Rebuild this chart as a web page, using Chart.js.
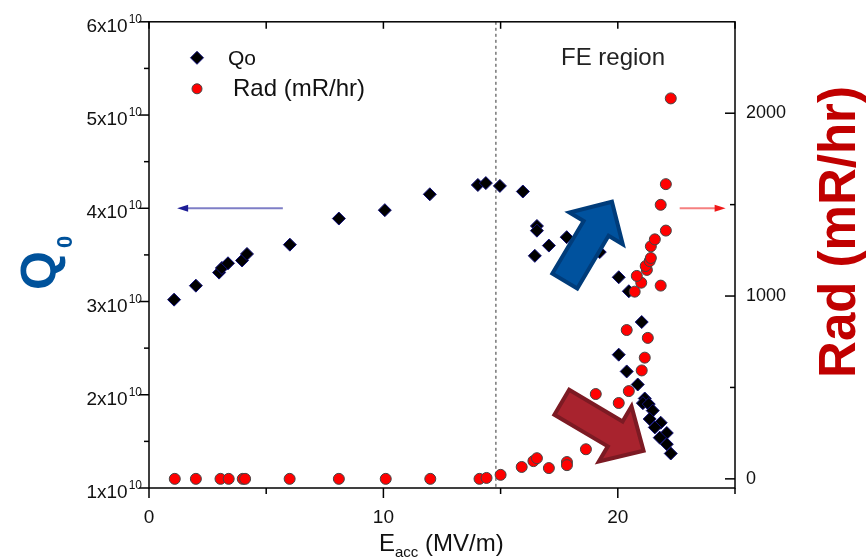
<!DOCTYPE html>
<html>
<head>
<meta charset="utf-8">
<title>Q0 and radiation vs Eacc</title>
<script src="https://cdn.jsdelivr.net/npm/chart.js@4.4.1/dist/chart.umd.min.js"></script>
<style>
  body { margin: 0; background: #fff; }
</style>
</head>
<body>
<canvas id="qChart" width="868" height="560"></canvas>
<script>
// Q0 points (diamonds, left axis)
var eQ = [1.07, 2.00, 2.99, 3.11, 3.37, 3.97, 4.18, 6.01, 8.10, 10.06, 11.98,
          14.03, 14.37, 14.97, 15.95, 16.55, 16.55, 16.46, 17.06, 17.82,
          19.23, 20.04, 20.47, 21.02, 20.04, 20.38, 20.85, 21.15, 21.07,
          21.32, 21.49, 21.36, 21.83, 21.58, 22.09, 21.79, 22.09, 22.26];
var q0 = [3.02e10, 3.17e10, 3.31e10, 3.36e10, 3.41e10, 3.44e10, 3.51e10, 3.61e10, 3.89e10, 3.98e10, 4.15e10,
          4.25e10, 4.27e10, 4.24e10, 4.18e10, 3.81e10, 3.76e10, 3.49e10, 3.60e10, 3.69e10,
          3.53e10, 3.26e10, 3.11e10, 2.78e10, 2.43e10, 2.25e10, 2.11e10, 1.96e10, 1.91e10,
          1.90e10, 1.83e10, 1.74e10, 1.70e10, 1.65e10, 1.59e10, 1.54e10, 1.47e10, 1.37e10];

// radiation points (circles, right axis)
var eRad = [1.1, 2.0, 3.05, 3.4, 4.0, 4.1, 6.0, 8.1, 10.1, 12.0, 14.1, 14.4,
            15.0, 15.9, 16.4, 16.55, 17.06, 17.83, 17.83, 18.64,
            19.06, 20.04, 20.47, 21.02, 21.15, 21.28, 20.38,
            20.72, 21.83, 21.0, 20.81, 21.24, 21.19, 21.36, 21.41, 21.41,
            21.58, 22.05, 21.83, 22.05, 22.26];
var rad = [0, 0, 0, 0, 0, 0, 0, 0, 0, 0, 0, 5,
           22, 65, 97, 113, 59, 92, 75, 162,
           464, 415, 480, 593, 663, 771, 814,
           1024, 1057, 1073, 1110, 1143, 1164, 1191, 1208, 1272,
           1310, 1358, 1499, 1612, 2081];

// ticks
var xTicks = [0, 10, 20];
var xMinor = [5, 15, 25];
var qTicks = [1e10, 2e10, 3e10, 4e10, 5e10, 6e10];
var qMinor = [1.5e10, 2.5e10, 3.5e10, 4.5e10, 5.5e10];
var radTicks = [0, 1000, 2000];
var radMinor = [500, 1500];

var feStart = 14.8;   // dashed line, start of FE region

var FONT = "'Liberation Sans', Arial, sans-serif";

function line(ctx, x0, y0, x1, y1) {
  ctx.beginPath();
  ctx.moveTo(x0, y0);
  ctx.lineTo(x1, y1);
  ctx.stroke();
}

// fat block arrow from (x0,y0) to tip (x1,y1)
function blockArrow(ctx, x0, y0, x1, y1, shaftW, headW, headL, fill, stroke) {
  var dx = x1 - x0, dy = y1 - y0, len = Math.hypot(dx, dy);
  var ux = dx / len, uy = dy / len, nx = -uy, ny = ux;
  var bx = x1 - ux * headL, by = y1 - uy * headL;
  var pts = [
    [x0 + nx * shaftW / 2, y0 + ny * shaftW / 2],
    [bx + nx * shaftW / 2, by + ny * shaftW / 2],
    [bx + nx * headW / 2, by + ny * headW / 2],
    [x1, y1],
    [bx - nx * headW / 2, by - ny * headW / 2],
    [bx - nx * shaftW / 2, by - ny * shaftW / 2],
    [x0 - nx * shaftW / 2, y0 - ny * shaftW / 2]
  ];
  ctx.beginPath();
  ctx.moveTo(pts[0][0], pts[0][1]);
  for (var i = 1; i < pts.length; i++) ctx.lineTo(pts[i][0], pts[i][1]);
  ctx.closePath();
  ctx.fillStyle = fill;
  ctx.fill();
  ctx.lineWidth = 4;
  ctx.lineJoin = 'miter';
  ctx.strokeStyle = stroke;
  ctx.stroke();
}

// thin arrow, horizontal
function thinArrow(ctx, x0, x1, y, lineCol, headCol) {
  var dir = x1 > x0 ? 1 : -1;
  ctx.strokeStyle = lineCol;
  ctx.lineWidth = 2;
  line(ctx, x0, y, x1 - dir * 8, y);
  ctx.fillStyle = headCol;
  ctx.beginPath();
  ctx.moveTo(x1, y);
  ctx.lineTo(x1 - dir * 11, y - 3.5);
  ctx.lineTo(x1 - dir * 11, y + 3.5);
  ctx.closePath();
  ctx.fill();
}

function diamond(ctx, x, y, r) {
  ctx.beginPath();
  ctx.moveTo(x, y - r);
  ctx.lineTo(x + r, y);
  ctx.lineTo(x, y + r);
  ctx.lineTo(x - r, y);
  ctx.closePath();
  ctx.fillStyle = '#000';
  ctx.fill();
  ctx.strokeStyle = '#10107a';
  ctx.lineWidth = 1;
  ctx.stroke();
}

var decor = {
  id: 'decor',
  beforeDatasetsDraw: function (chart) {
    var ctx = chart.ctx, a = chart.chartArea;
    var xs = chart.scales.x, ys = chart.scales.y, rs = chart.scales.y2;
    ctx.save();
    // FE onset
    var fx = xs.getPixelForValue(feStart);
    ctx.strokeStyle = '#333';
    ctx.lineWidth = 1;
    ctx.setLineDash([3, 3]);
    line(ctx, fx, a.top, fx, a.bottom);
    ctx.setLineDash([]);
    // frame
    ctx.strokeStyle = '#000';
    ctx.lineWidth = 1.5;
    ctx.strokeRect(a.left, a.top, a.right - a.left, a.bottom - a.top);
    // x ticks: out at bottom, in at top
    xTicks.forEach(function (v) {
      var p = xs.getPixelForValue(v);
      line(ctx, p, a.bottom, p, a.bottom + 10);
      line(ctx, p, a.top, p, a.top + 7);
    });
    xMinor.forEach(function (v) {
      var p = xs.getPixelForValue(v);
      line(ctx, p, a.bottom, p, a.bottom + 6);
      line(ctx, p, a.top, p, a.top + 7);
    });
    // left ticks, outward
    qTicks.forEach(function (v) {
      var p = ys.getPixelForValue(v);
      line(ctx, a.left - 10, p, a.left, p);
    });
    qMinor.forEach(function (v) {
      var p = ys.getPixelForValue(v);
      line(ctx, a.left - 5, p, a.left, p);
    });
    // right ticks, inward
    radTicks.forEach(function (v) {
      var p = rs.getPixelForValue(v);
      line(ctx, a.right - 10, p, a.right, p);
    });
    radMinor.forEach(function (v) {
      var p = rs.getPixelForValue(v);
      line(ctx, a.right - 5, p, a.right, p);
    });
    ctx.restore();
  },
  afterDatasetsDraw: function (chart) {
    var ctx = chart.ctx, a = chart.chartArea;
    var xs = chart.scales.x, ys = chart.scales.y;
    ctx.save();
    // big arrows
    blockArrow(ctx, xs.getPixelForValue(17.74), ys.getPixelForValue(3.22e10),
               xs.getPixelForValue(19.75), ys.getPixelForValue(4.07e10),
               29, 62, 31, '#00529e', '#003c7a');
    blockArrow(ctx, xs.getPixelForValue(17.61), ys.getPixelForValue(1.92e10),
               xs.getPixelForValue(21.1), ys.getPixelForValue(1.40e10),
               29, 64, 33, '#a8232e', '#7c1a23');
    // small pointers to the axes
    var ay = ys.getPixelForValue(4e10);
    thinArrow(ctx, xs.getPixelForValue(5.71), xs.getPixelForValue(1.2), ay,
              'rgba(40,40,160,0.6)', '#1c1c96');
    thinArrow(ctx, xs.getPixelForValue(22.64), xs.getPixelForValue(24.6), ay,
              'rgba(240,60,60,0.65)', '#f01818');
    // FE region label
    ctx.fillStyle = '#222';
    ctx.font = '24px ' + FONT;
    ctx.textAlign = 'center';
    ctx.textBaseline = 'middle';
    ctx.fillText('FE region', 613, 58);
    // legend
    ctx.textAlign = 'left';
    diamond(ctx, a.left + 48, a.top + 36, 6.5);
    ctx.fillStyle = '#111';
    ctx.font = '21px ' + FONT;
    ctx.fillText('Qo', a.left + 79, a.top + 37);
    ctx.beginPath();
    ctx.arc(a.left + 48, a.top + 67, 5, 0, Math.PI * 2);
    ctx.fillStyle = '#ff0000';
    ctx.fill();
    ctx.strokeStyle = '#444';
    ctx.lineWidth = 1;
    ctx.stroke();
    ctx.fillStyle = '#111';
    ctx.font = '24px ' + FONT;
    ctx.fillText('Rad (mR/hr)', a.left + 84, a.top + 68);
    ctx.restore();
  },
  afterDraw: function (chart) {
    var ctx = chart.ctx, a = chart.chartArea, ys = chart.scales.y;
    ctx.save();
    // left tick labels  Nx10^10
    ctx.fillStyle = '#111';
    ctx.textAlign = 'right';
    ctx.textBaseline = 'alphabetic';
    qTicks.forEach(function (v) {
      var p = ys.getPixelForValue(v);
      ctx.font = '12px ' + FONT;
      var sw = ctx.measureText('10').width;
      ctx.fillText('10', a.left - 7, p + 1);
      ctx.font = '19px ' + FONT;
      ctx.fillText((v / 1e10) + 'x10', a.left - 8 - sw, p + 10);
    });
    // Q0 title
    ctx.fillStyle = '#00529b';
    ctx.textAlign = 'left';
    ctx.translate(56, 290);
    ctx.rotate(-Math.PI / 2);
    ctx.font = 'bold 50px ' + FONT;
    var qw = ctx.measureText('Q').width;
    ctx.fillText('Q', 0, 0);
    ctx.font = 'bold 22px ' + FONT;
    ctx.fillText('0', qw + 3, 16);
    ctx.setTransform(1, 0, 0, 1, 0, 0);
    // Rad title
    ctx.fillStyle = '#c00000';
    ctx.textAlign = 'center';
    ctx.translate(855, 232);
    ctx.rotate(-Math.PI / 2);
    ctx.font = 'bold 51px ' + FONT;
    ctx.fillText('Rad (mR/hr)', 0, 0);
    ctx.setTransform(1, 0, 0, 1, 0, 0);
    // Eacc title
    ctx.fillStyle = '#111';
    ctx.textAlign = 'left';
    var tx = 379;
    ctx.font = '24px ' + FONT;
    ctx.fillText('E', tx, 551);
    tx += ctx.measureText('E').width;
    ctx.font = '15px ' + FONT;
    ctx.fillText('acc', tx, 557);
    tx += ctx.measureText('acc').width;
    ctx.font = '24px ' + FONT;
    ctx.fillText(' (MV/m)', tx, 551);
    ctx.restore();
  }
};

var ctx = document.getElementById('qChart').getContext('2d');

var qChart = new Chart(ctx, {
  type: 'scatter',
  data: {
    datasets: [
      {
        label: 'Qo',
        data: eQ.map(function (x, i) { return { x: x, y: q0[i] }; }),
        yAxisID: 'y',
        pointStyle: 'rectRot',
        pointRadius: 6.5,
        backgroundColor: '#000',
        borderColor: '#10107a',
        borderWidth: 1,
        order: 2
      },
      {
        label: 'Rad (mR/hr)',
        data: eRad.map(function (x, i) { return { x: x, y: rad[i] }; }),
        yAxisID: 'y2',
        pointStyle: 'circle',
        pointRadius: 5.5,
        backgroundColor: '#ff0000',
        borderColor: '#444',
        borderWidth: 1,
        order: 1
      }
    ]
  },
  options: {
    responsive: false,
    animation: false,
    layout: { padding: { top: 17 } },
    plugins: {
      legend: { display: false },
      tooltip: { enabled: false }
    },
    scales: {
      x: {
        type: 'linear',
        min: 0,
        max: 25,
        grid: { display: false, drawTicks: false },
        border: { display: false },
        afterBuildTicks: function (s) { s.ticks = xTicks.map(function (v) { return { value: v }; }); },
        afterFit: function (s) { s.height = 72; },
        ticks: {
          padding: 18,
          color: '#111',
          maxRotation: 0,
          font: { family: FONT, size: 19 },
          callback: function (v) { return String(v); }
        }
      },
      y: {
        position: 'left',
        min: 1e10,
        max: 6e10,
        grid: { display: false, drawTicks: false },
        border: { display: false },
        ticks: { display: false },
        afterFit: function (s) { s.width = 149; }
      },
      y2: {
        position: 'right',
        min: -50,
        max: 2500,
        grid: { display: false, drawTicks: false },
        border: { display: false },
        afterBuildTicks: function (s) { s.ticks = radTicks.map(function (v) { return { value: v }; }); },
        afterFit: function (s) { s.width = 133; },
        ticks: {
          padding: 11,
          color: '#111',
          font: { family: FONT, size: 18 },
          callback: function (v) { return String(v); }
        }
      }
    }
  },
  plugins: [decor]
});
</script>
</body>
</html>
